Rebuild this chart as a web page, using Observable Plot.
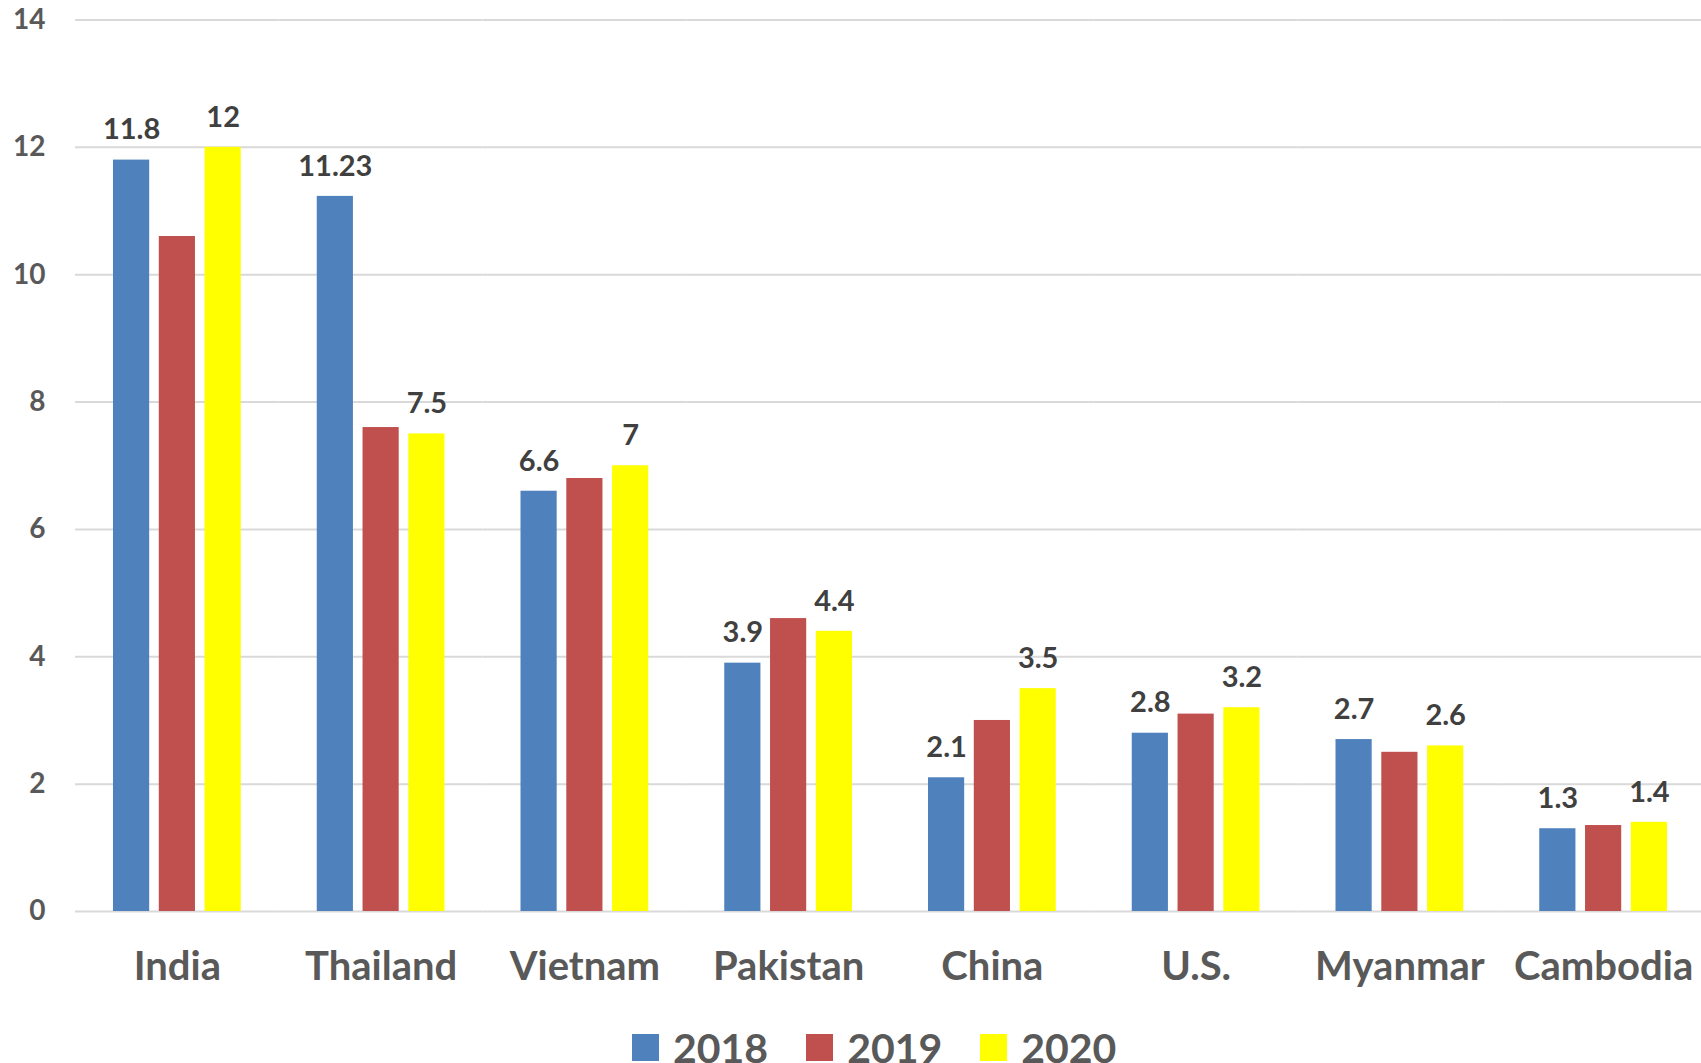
<!DOCTYPE html>
<html>
<head>
<meta charset="utf-8">
<script src="https://cdn.jsdelivr.net/npm/d3@7"></script>
<script src="https://cdn.jsdelivr.net/npm/@observablehq/plot@0.6"></script>
<style>
  html, body { margin: 0; padding: 0; background: #fff; }
  #wrap { position: relative; width: 1701px; height: 1063px; overflow: hidden; }
  #chart svg { overflow: visible; }
  #legend { position: absolute; left: 632px; top: 1012px; height: 70px; display: flex; align-items: center;
            font-family: Lato, sans-serif; font-weight: bold; font-size: 41px; color: #595959; }
  .item { display: flex; align-items: center; margin-right: 38px; }
  .sw { width: 27px; height: 27px; margin-right: 14px; }
</style>
</head>
<body>
<div id="wrap">
  <div id="chart"></div>
  <div id="legend"></div>
</div>
<script>
const countries = ["India", "Thailand", "Vietnam", "Pakistan", "China", "U.S.", "Myanmar", "Cambodia"];
const years = ["2018", "2019", "2020"];
const v2018 = [11.8, 11.23, 6.6, 3.9, 2.1, 2.8, 2.7, 1.3];
const v2019 = [10.6, 7.6, 6.8, 4.6, 3.0, 3.1, 2.5, 1.35];
const v2020 = [12, 7.5, 7, 4.4, 3.5, 3.2, 2.6, 1.4];
const colors = ["#4f81bd", "#c0504d", "#ffff00"];
const labelledYears = ["2018", "2020"];
const yTicks = [0, 2, 4, 6, 8, 10, 12, 14];

const series = [v2018, v2019, v2020];
const data = [];
countries.forEach((c, i) => {
  years.forEach((y, j) => data.push({country: c, year: y, value: series[j][i]}));
});

const chart = Plot.plot({
  width: 1701,
  height: 1010,
  marginLeft: 75,
  marginRight: -4,
  marginTop: 19.5,
  marginBottom: 99,
  style: {fontFamily: "Lato, sans-serif", background: "#fff"},
  fx: {domain: countries, padding: 0, round: false, label: null},
  x: {domain: years, paddingInner: 0.21, paddingOuter: 0.83, round: false, axis: null},
  y: {domain: [0, 14], label: null},
  color: {domain: years, range: colors},
  marks: [
    Plot.gridY(yTicks, {stroke: "#d9d9d9", strokeOpacity: 1, strokeWidth: 2}),
    Plot.axisY(yTicks, {tickSize: 0, tickPadding: 30, tickFormat: d => String(d), fontSize: 28, fontWeight: "bold", fill: "#595959", label: null}),
    Plot.axisFx({anchor: "bottom", tickSize: 0, tickPadding: 40, fontSize: 40, fontWeight: "bold", fill: "#595959", label: null}),
    Plot.barY(data, {fx: "country", x: "year", y: "value", fill: "year"}),
    Plot.text(data.filter(d => labelledYears.includes(d.year)), {
      fx: "country", x: "year", y: "value", text: d => String(d.value),
      dy: -30, fontSize: 29, fontWeight: "bold", fill: "#404040"
    })
  ]
});
document.getElementById("chart").appendChild(chart);

const legend = document.getElementById("legend");
years.forEach((y, j) => {
  const item = document.createElement("div");
  item.className = "item";
  const sw = document.createElement("div");
  sw.className = "sw";
  sw.style.background = colors[j];
  const t = document.createElement("span");
  t.textContent = y;
  item.appendChild(sw);
  item.appendChild(t);
  legend.appendChild(item);
});
</script>
</body>
</html>
